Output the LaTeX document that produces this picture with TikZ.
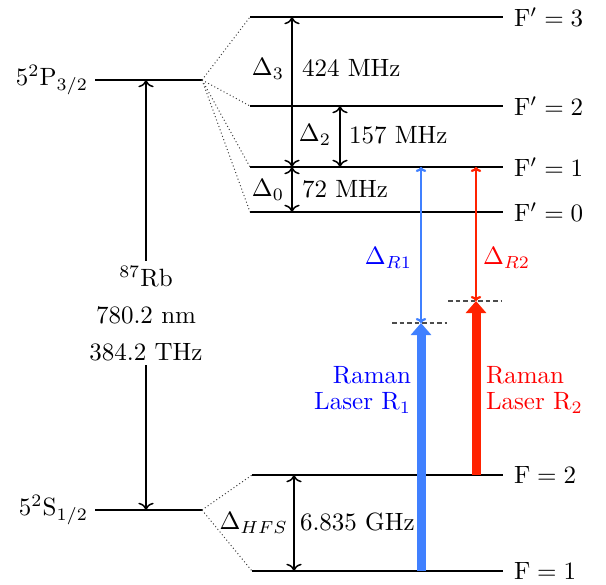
\documentclass[tikz,border=0pt]{standalone}
\usetikzlibrary{arrows.meta}
\definecolor{lblue}{RGB}{64,128,255}
\definecolor{lred}{RGB}{255,34,0}
\definecolor{tblue}{RGB}{0,0,255}
\definecolor{tred}{RGB}{255,0,0}
\begin{document}
\begin{tikzpicture}[x=0.4pt,y=-0.4pt,
  level/.style={line width=0.8pt},
  gap/.style={semithick,<->},
  dots/.style={densely dotted, black!75, thin},
  vline/.style={dash pattern=on 1.8pt off 1.2pt, black!70, semithick},
  beam/.style={line width=3.6pt,-{Triangle[width=8pt,length=4.8pt]}},
  probe/.style={line width=0.9pt,{To[length=2pt,width=4.2pt]}-{To[length=2pt,width=4.2pt]}},
  lbl/.style={inner sep=1pt}]
\useasboundingbox (0,0) rectangle (606,585);
% fine structure levels
\coordinate (PL) at (95,80);  \coordinate (PR) at (202,80);
\coordinate (SL) at (95,510); \coordinate (SR) at (202,510);
\draw[level] (PL) -- (PR);
\draw[level] (SL) -- (SR);
\node[anchor=east,lbl] (Plab) at (91,80) {$5^2\mathrm{P}_{3/2}$};
\node[anchor=east,lbl] (Slab) at (91,510) {$5^2\mathrm{S}_{1/2}$};
% hyperfine excited
\coordinate (F3L) at (250,17);  \coordinate (F3R) at (503,17);
\coordinate (F2L) at (250,106); \coordinate (F2R) at (503,106);
\coordinate (F1L) at (250,167); \coordinate (F1R) at (503,167);
\coordinate (F0L) at (250,212); \coordinate (F0R) at (503,212);
\foreach \n in {3,2,1,0}{
  \draw[level] (F\n L) -- (F\n R);
  \draw[dots] (PR) -- (F\n L);
  \node[anchor=west,lbl] (F\n lab) at ([xshift=3.2pt]F\n R) {$\mathrm{F'}=\n$};
}
% hyperfine ground
\coordinate (G2L) at (252,475); \coordinate (G2R) at (503,475);
\coordinate (G1L) at (252,571); \coordinate (G1R) at (503,571);
\foreach \n in {2,1}{
  \draw[level] (G\n L) -- (G\n R);
  \draw[dots] (SR) -- (G\n L);
  \node[anchor=west,lbl] (G\n lab) at ([xshift=3.2pt]G\n R) {$\mathrm{F}=\n$};
}
% Rb transition
\coordinate (rbS) at (146,510); \coordinate (rbP) at (146,80);
\draw[gap] (rbS) -- (rbP);
\node[fill=white,align=center,font=\fontsize{10}{14.8}\selectfont,inner sep=2pt] (rb) at (146,313)
  {$^{87}\mathrm{Rb}$\\$780.2\ \mathrm{nm}$\\$384.2\ \mathrm{THz}$};
% splittings
\coordinate (d3t) at (292,17);  \coordinate (d3b) at (292,167);
\coordinate (d2t) at (340,106); \coordinate (d2b) at (340,167);
\coordinate (d0t) at (292,167); \coordinate (d0b) at (292,212);
\coordinate (dht) at (294,475); \coordinate (dhb) at (294,571);
\draw[gap] (d3t) -- (d3b);
\draw[gap] (d2t) -- (d2b);
\draw[gap] (d0t) -- (d0b);
\draw[gap] (dht) -- (dhb);
\node[lbl] (D3) at (268,69) {$\Delta_3$};
\node[anchor=west,lbl] (D3v) at (299,68) {$424\ \mathrm{MHz}$};
\node[anchor=east,lbl] (D2) at (334,135) {$\Delta_2$};
\node[anchor=west,lbl] (D2v) at (346,135) {$157\ \mathrm{MHz}$};
\node[lbl] (D0) at (268,190) {$\Delta_0$};
\node[anchor=west,lbl] (D0v) at (299,189) {$72\ \mathrm{MHz}$};
\node[anchor=east,lbl] (DH) at (291,523) {$\Delta_{HFS}$};
\node[anchor=west,lbl] (DHv) at (297,522) {$6.835\ \mathrm{GHz}$};
% virtual levels
\coordinate (v1L) at (392,323); \coordinate (v1R) at (447,323);
\coordinate (v2L) at (448,301); \coordinate (v2R) at (502,301);
\draw[vline] (v1L) -- (v1R);
\draw[vline] (v2L) -- (v2R);
% Raman beams
\coordinate (b1s) at (421,571); \coordinate (b1e) at (421,323);
\coordinate (b2s) at (476,475); \coordinate (b2e) at (476,301);
\coordinate (p1t) at (421,167); \coordinate (p2t) at (476,167);
\draw[beam,lblue] (b1s) -- (b1e);
\draw[beam,lred] (b2s) -- (b2e);
\draw[probe,lblue] (b1e) -- (p1t);
\draw[probe,lred] (b2e) -- (p2t);
\node[anchor=east,lbl,tblue] (DR1) at (415,258) {$\Delta_{R1}$};
\node[anchor=west,lbl,tred] (DR2) at (480,258) {$\Delta_{R2}$};
\node[anchor=east,align=right,lbl,tblue,font=\fontsize{10}{10.4}\selectfont] (L1) at (414,390) {Raman\\Laser R$_1$};
\node[anchor=west,align=left,lbl,tred,font=\fontsize{10}{10.4}\selectfont] (L2) at (483,390) {Raman\\Laser R$_2$};
\end{tikzpicture}
\end{document}
